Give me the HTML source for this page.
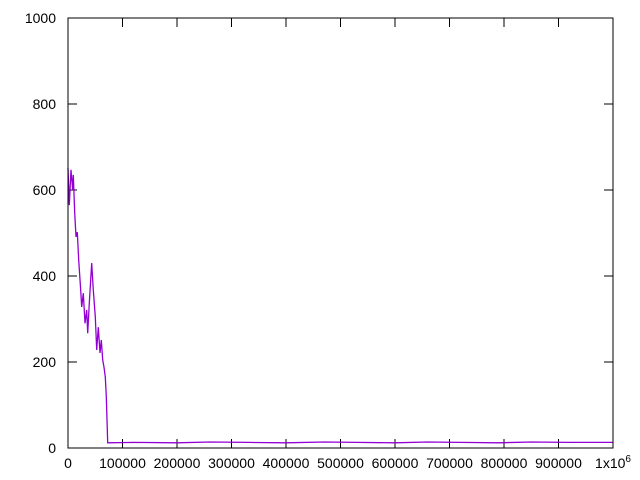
<!DOCTYPE html>
<html><head><meta charset="utf-8"><style>
html,body{margin:0;padding:0;background:#fff;}
svg{display:block;font-family:"Liberation Sans",Arial,sans-serif;}
</style></head><body>
<svg id="chart" width="640" height="480"></svg>
<script>
const xs=[0,2.4,5.5,8.6,9.7,12.3,14.7,17.1,19.6,23.3,25.1,28.1,31.2,34.3,36.1,39.1,43.5,46.4,50.1,52.7,55.6,58.7,61.1,63.7,66.1,68.4,70.3,72.8,120,200,260,330,400,470,530,600,660,720,790,850,920,1000];
const ys=[651,565,647,600,635,547,491,502,437,367,328,360,290,321,267,337,430,367,305,228,281,221,251,205,188,165,119,12,13,12,14,13,12,14,13,12,14,13,12,14,13,13];
const yTicks=[0,200,400,600,800,1000];
const xTicks=[0,100,200,300,400,500,600,700,800,900];
const xTickLabels=["0","100000","200000","300000","400000","500000","600000","700000","800000","900000"];
const L=68,R=613,T=18,B=448;
const sx=v=>L+(v/1000)*(R-L);
const sy=v=>B-(v/1000)*(B-T);
const svg=document.getElementById('chart');
const NS='http://www.w3.org/2000/svg';
function mk(t,a){const e=document.createElementNS(NS,t);for(const k in a)e.setAttribute(k,a[k]);svg.appendChild(e);return e;}
yTicks.forEach(v=>{
 const y=sy(v);
 const t1=mk('line',{x1:L,y1:y,x2:L+9,y2:y,stroke:'#000','stroke-width':1});
 
 
 mk('line',{x1:R,y1:y,x2:R-9,y2:y,stroke:'#000','stroke-width':1});
 const tx=mk('text',{x:L-12,y:y+5,'text-anchor':'end','font-size':14});
 tx.textContent=v;
 
 
});
xTicks.forEach((v,i)=>{
 const x=sx(v);
 const t1=mk('line',{x1:x,y1:B,x2:x,y2:B-9,stroke:'#000','stroke-width':1});
 
 
 mk('line',{x1:x,y1:T,x2:x,y2:T+9,stroke:'#000','stroke-width':1});
 const tx=mk('text',{x:x,y:B+20,'text-anchor':'middle','font-size':14});
 tx.textContent=xTickLabels[i];
 
 
});
const last=mk('text',{x:sx(1000),y:B+20,'text-anchor':'middle','font-size':14});
last.innerHTML='1x10<tspan font-size="10" dy="-6">6</tspan>';


const d=xs.map((v,i)=>(i?'L':'M')+sx(v).toFixed(1)+' '+sy(ys[i]).toFixed(1)).join(' ');
const p=mk('path',{d:d,fill:'none',stroke:'#9400d3','stroke-width':1.3});


const fr=mk('rect',{x:L,y:T,width:R-L,height:B-T,fill:'none',stroke:'#000','stroke-width':1});


</script>
</body></html>
